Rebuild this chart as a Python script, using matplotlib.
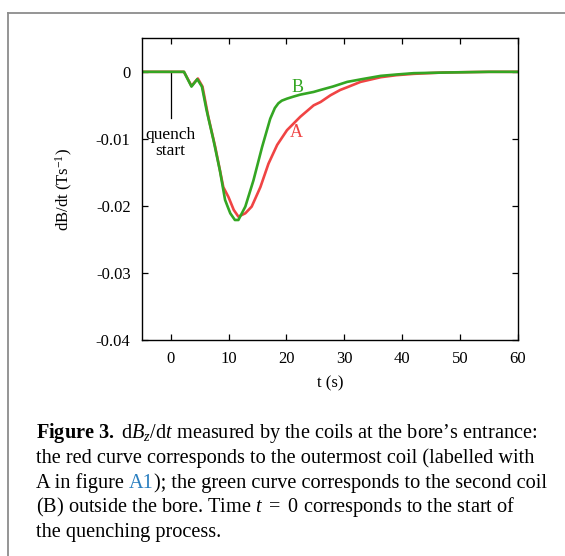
import matplotlib.pyplot as plt
from matplotlib.lines import Line2D

plt.rcParams['font.family'] = ['Liberation Serif', 'DejaVu Serif']
plt.rcParams['mathtext.fontset'] = 'custom'
plt.rcParams['mathtext.rm'] = 'Liberation Serif'
plt.rcParams['mathtext.it'] = 'Liberation Serif:italic'
plt.rcParams['mathtext.bf'] = 'Liberation Serif:bold'

# coil A (outermost, red)
t_a = [-5, 2.3, 3.6, 4.7, 5.5, 6.5, 7.7, 9.1, 10.0, 10.9, 11.7, 12.9, 14.0,
       15.5, 16.9, 18.4, 20.1, 22.4, 24.7, 25.9, 27.6, 29.3, 30.5, 32.8,
       36.3, 39, 42, 47, 55, 60]
v_a = [0, 0, -0.0021, -0.0010, -0.0022, -0.0067, -0.0112, -0.0172, -0.0187,
       -0.0206, -0.0216, -0.0211, -0.0201, -0.0172, -0.0137, -0.0109, -0.0087,
       -0.0067, -0.0050, -0.0045, -0.0035, -0.0027, -0.0023, -0.0015, -0.0008,
       -0.0005, -0.0003, -0.0001, 0, 0]

# coil B (second, green)
t_b = [-5, 2.3, 3.6, 4.6, 5.4, 6.2, 7.4, 8.5, 9.4, 9.8, 10.3, 11.1, 11.7,
       12.9, 14.3, 15.8, 17.2, 18.0, 18.6, 19.2, 20.1, 21.2, 22.4, 24.7, 25.9,
       28, 30.5, 33, 36.3, 39, 42, 47.8, 55, 60]
v_b = [0, 0, -0.0022, -0.0011, -0.0022, -0.0057, -0.0102, -0.0147, -0.0191,
       -0.0200, -0.0211, -0.0221, -0.0221, -0.0201, -0.0162, -0.0112, -0.0070,
       -0.0054, -0.0047, -0.0043, -0.0040, -0.0037, -0.0034, -0.0030, -0.0027,
       -0.0022, -0.0015, -0.0011, -0.0006, -0.0004, -0.0002, -0.0001, 0, 0]

xticks = [0, 10, 20, 30, 40, 50, 60]
yticks = [0, -0.01, -0.02, -0.03, -0.04]
ytick_labels = ['0', '-0.01', '-0.02', '-0.03', '-0.04']

red = '#f04444'
green = '#34a623'

fig = plt.figure(figsize=(5.65, 5.56), dpi=100)
ax = fig.add_axes([0.2508, 0.3885, 0.666, 0.5426])

ax.plot(t_a, v_a, color=red, lw=1.9)
ax.plot(t_b, v_b, color=green, lw=1.9)

# quench start marker
ax.plot([0, 0], [0, -0.0069], color='black', lw=0.9, zorder=1)
ax.text(0, -0.0106, 'quench\nstart', ha='center', va='center', fontsize=12.5,
        linespacing=1.05)
ax.text(21.7, -0.0090, 'A', color=red, fontsize=13, ha='center', va='center')
ax.text(21.9, -0.0023, 'B', color=green, fontsize=13, ha='center', va='center')

ax.set_xlim(-5, 60)
ax.set_ylim(-0.04, 0.005)
ax.set_xticks(xticks)
ax.set_yticks(yticks)
ax.set_yticklabels(ytick_labels)
ax.tick_params(direction='in', length=4, width=0.9, top=True, right=True,
               labelsize=12, pad=8)
for s in ax.spines.values():
    s.set_linewidth(1.0)
ax.set_xlabel('t (s)', fontsize=12, labelpad=6)
ax.set_ylabel(r'dB/dt (Ts$^{\mathregular{-1}}$)', fontsize=12, labelpad=15)

# frame around the figure
fig.add_artist(Line2D([7.5 / 565, 7.5 / 565], [0, 1 - 12.5 / 556],
                      color='#8c8c8c', lw=1.3, transform=fig.transFigure))
fig.add_artist(Line2D([7.5 / 565, 1], [1 - 12.5 / 556, 1 - 12.5 / 556],
                      color='#8c8c8c', lw=1.3, transform=fig.transFigure))

# caption
cap_size = 14.6
x0 = 36 / 565
ys = [433, 458, 483, 507, 532]
lines = [
    r"$\mathbf{Figure\ 3.}$ d$B_z$/d$t$ measured by the coils at the bore’s entrance:",
    "the red curve corresponds to the outermost coil (labelled with",
    None,
    r"(B) outside the bore. Time $t\ =\ 0$ corresponds to the start of",
    "the quenching process.",
]
for y, txt in zip(ys, lines):
    if txt is None:
        continue
    fig.text(x0, 1 - y / 556, txt, fontsize=cap_size, va='center', ha='left')

# line with the blue figure reference
fig.canvas.draw()
r = fig.canvas.get_renderer()
y3 = 1 - ys[2] / 556
parts = [("A in figure ", 'black'), ("A1", '#2a7fc0'),
         ("); the green curve corresponds to the second coil", 'black')]
xp = x0
for txt, col in parts:
    tt = fig.text(xp, y3, txt, fontsize=cap_size, va='center', ha='left', color=col)
    bb = tt.get_window_extent(renderer=r)
    xp += bb.width / fig.bbox.width

fig.savefig('out.png', dpi=100)
